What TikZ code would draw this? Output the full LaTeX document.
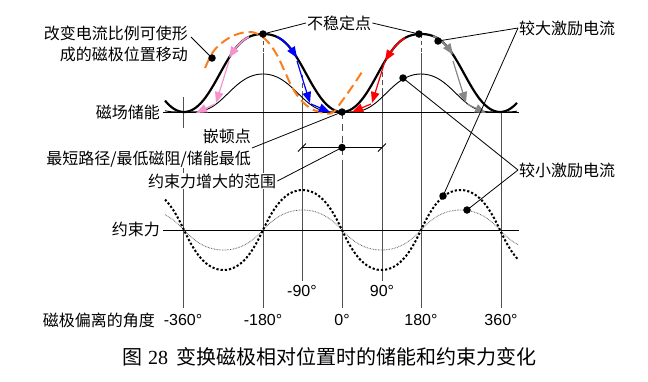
\documentclass[tikz,border=0pt]{standalone}
\usepackage{fontspec}
\setmainfont{Liberation Sans}
\newfontfamily\cjk{Noto Sans CJK SC}
\newfontfamily\sernum{Liberation Serif}
\usetikzlibrary{arrows.meta}
\definecolor{orng}{RGB}{250,125,30}
\definecolor{pnk}{RGB}{245,145,205}
\definecolor{vgray}{RGB}{80,80,80}
\definecolor{agray}{RGB}{135,135,135}
\begin{document}
\begin{tikzpicture}[x=1pt,y=-1pt,
  declare function={uu(\x)=(1-cos((\x-342)*2.278481))/2;
    Et(\x)=uu(\x)+0.6*uu(\x)*uu(\x)*(1-uu(\x));
    En(\x)=2*uu(\x)*uu(\x)-uu(\x)*uu(\x)*uu(\x);
    ss(\x)=sin((\x-342)*2.278481);
    Fs(\x)=ss(\x)*(1+0.35*(1-abs(ss(\x))));},
  lbl/.style={font=\cjk\fontsize{16}{21}\selectfont, inner sep=1pt},
  num/.style={font=\fontsize{16}{19}\selectfont, inner sep=1pt},
  vline/.style={draw=vgray, line width=0.8pt},
  axisline/.style={draw=black, line width=0.9pt},
  thickE/.style={line width=2.2pt, black},
  thinE/.style={line width=0.9pt, black},
  thickF/.style={line width=2pt, black, dash pattern=on 2.2pt off 2pt},
  thinF/.style={line width=0.8pt, black!65, dash pattern=on 0.7pt off 0.9pt},
  orangecurve/.style={draw=orng, line width=2pt, dash pattern=on 10pt off 5pt},
  dot/.style={circle, fill=black, inner sep=0pt, minimum size=7.5pt},
  leader/.style={draw=black, line width=0.8pt},
  arrA/.style={line width=1.7pt, -{Triangle[length=11pt,width=8.5pt]}},
  arrB/.style={line width=1.2pt, -{Triangle[length=11pt,width=8.5pt]}},
]
\path[use as bounding box] (0,0) rectangle (648,381);

% vertical guide lines
\draw[vline] (183,97) -- (183,308);
\draw[vline, dash pattern=on 4pt off 3pt] (263,34) -- (263,53);
\draw[vline] (263,53) -- (263,308);
\draw[vline, dash pattern=on 4pt off 3pt] (421,34) -- (421,53);
\draw[vline] (421,53) -- (421,308);
\draw[vline, dash pattern=on 7pt off 5pt] (342,112) -- (342,160);
\draw[vline] (342,160) -- (342,308);
\draw[vline] (501,112) -- (501,308);
\draw[vline, dash pattern=on 5pt off 3pt] (302,75) -- (302,92);
\draw[vline] (302,92) -- (302,281);
\draw[vline, dash pattern=on 5pt off 3pt] (382,72) -- (382,90);
\draw[vline] (382,90) -- (382,281);

% axes
\draw[axisline] (163,112) -- (519,112);
\draw[axisline] (163,230) -- (519,230);

% energy curves
\draw[thinE] plot[domain=165:517, samples=121, smooth] (\x, {112-38*En(\x)});
\draw[thickE] plot[domain=165:517, samples=121, smooth] (\x, {112-78*Et(\x)});

% force curves
\draw[thinF] plot[domain=165:518, samples=121, smooth] (\x, {230+20*Fs(\x)});
\draw[thickF] plot[domain=165:518, samples=121, smooth] (\x, {230+40*Fs(\x)});

% orange shifted curve
\draw[orangecurve] plot[smooth, tension=0.6] coordinates {(205,68) (213,52) (223,42) (235,35) (248,32) (258,34) (268,42) (277,55) (285,72) (292,87) (300,99) (310,108) (320,112) (332,113) (342,101) (352,87) (362,72)};

% arrows: pink
\draw[pnk, arrA] plot[domain=249:229, samples=8] (\x, {112-78*Et(\x)});
\draw[pnk, arrB] (229,61) -- (216,103);
\draw[pnk, arrB] (215,104) -- (196,113);
% blue
\draw[blue, arrA] plot[domain=277:297, samples=8] (\x, {112-78*Et(\x)});
\draw[blue, arrB] (297,61) -- (310,103);
\draw[blue, arrB] (311,104) -- (330,112);
% red
\draw[red, arrA] plot[domain=405:385, samples=8] (\x, {112-78*Et(\x)});
\draw[red, arrB] (385,61) -- (372,103);
\draw[red, arrB] (371,104) -- (352,112);
% gray
\draw[agray, arrA] plot[domain=433:453, samples=8] (\x, {112-78*Et(\x)});
\draw[agray, arrB] (453,61) -- (466,103);
\draw[agray, arrB] (467,104) -- (486,113);

% range bar
\coordinate (rl) at (302,147.5);
\coordinate (rr) at (382,147.5);
\draw[leader] (rl) -- (rr);
\draw[leader] (298,151.5) -- (306,143.5);
\draw[leader] (378,151.5) -- (386,143.5);

% labels
\node[lbl, anchor=east, align=right] (gb) at (189,44) {改变电流比例可使形\\成的磁极位置移动};
\node[lbl, anchor=east] (ec) at (161,112) {磁场储能};
\node[lbl, anchor=east] (fc) at (161,229) {约束力};
\node[lbl, anchor=east] (ang) at (156,320) {磁极偏离的角度};
\node[lbl, anchor=west] (bw) at (306,23) {不稳定点};
\node[lbl, anchor=west] (big) at (518,28) {较大激励电流};
\node[lbl, anchor=west] (sml) at (518,170) {较小激励电流};
\node[lbl, font=\cjk\fontsize{16}{22}\selectfont, anchor=east, align=right, fill=white] (qd) at (252,148) {嵌顿点\\最短路径/最低磁阻/储能最低};
\node[lbl, anchor=west, fill=white] (fw) at (147,181) {约束力增大的范围};

% numbers
\node[num] (n1) at (183,320) {-360°};
\node[num] (n2) at (263,320) {-180°};
\node[num] (n3) at (342,320) {0°};
\node[num] (n4) at (421,320) {180°};
\node[num] (n5) at (501,320) {360°};
\node[num] (n6) at (302,291) {-90°};
\node[num] (n7) at (382,291) {90°};

% caption
\node[font=\cjk\fontsize{20}{24}\selectfont] (cap) at (329,357) {图\hspace{6pt}{\sernum 28}\hspace{8pt}变换磁极相对位置时的储能和约束力变化};

% dots
\node[dot] (pk1) at (263,34) {};
\node[dot] (pk2) at (419,34) {};
\node[dot] (dA) at (438,41) {};
\node[dot] (dC) at (403,78) {};
\node[dot] (p0) at (342,112) {};
\node[dot] (pr) at (342,147.5) {};
\node[dot] (dl) at (212,58) {};
\node[dot] (dB) at (443,196) {};
\node[dot] (dD) at (467,210) {};

% leaders
\draw[leader] (pk1.center) -- (bw.west);
\draw[leader] (bw.east) -- (pk2.center);
\draw[leader] (big.west) -- (dA.center);
\draw[leader] (big.west) -- (dB.center);
\draw[leader] (sml.west) -- (dC.center);
\draw[leader] (sml.west) -- (dD.center);
\draw[leader] ([xshift=2pt,yshift=7pt]gb.east) -- (dl.center);
\draw[leader] (qd.east) -- (p0.center);
\draw[leader] (fw.east) -- (pr.center);
\end{tikzpicture}
\end{document}
